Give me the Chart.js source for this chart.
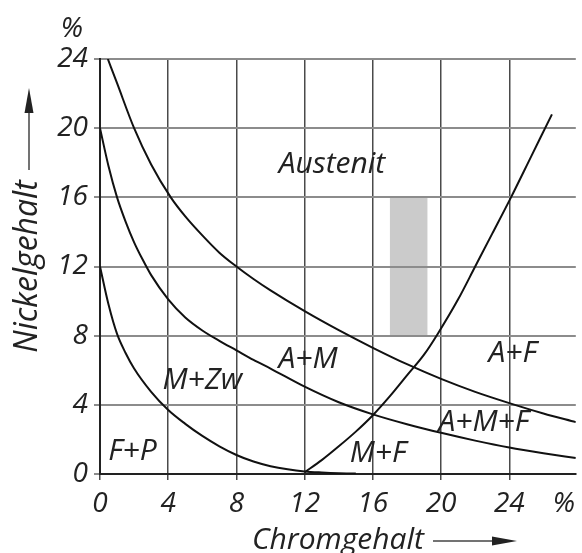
<!DOCTYPE html>
<html>
<head>
<meta charset="utf-8">
<script src="https://cdn.jsdelivr.net/npm/chart.js@4"></script>
<style>
  html, body { margin: 0; padding: 0; background: #fff; }
  #wrap { width: 582px; height: 553px; }
</style>
</head>
<body>
<div id="wrap"><canvas id="c" width="582" height="553"></canvas></div>
<script>
// Chromium-nickel structure diagram (Maurer diagram)
const xTicks = [0, 4, 8, 12, 16, 20, 24];
const yTicks = [0, 4, 8, 12, 16, 20, 24];

// boundary F+P / M+Zw
const fpX = [0, 0.5, 1, 1.5, 2, 3, 4, 5, 6, 7, 8, 9, 10, 11, 12, 13, 14, 15];
const fpY = [12, 9.8, 8.1, 7.0, 6.1, 4.75, 3.7, 2.9, 2.2, 1.6, 1.1, 0.72, 0.45, 0.27, 0.15, 0.09, 0.05, 0.03];

// boundary M+Zw / A+M
const amX = [0, 0.5, 1, 1.5, 2, 2.5, 3, 4, 5, 6, 7, 8, 9, 10, 12, 14, 16, 18, 20, 22, 24, 26, 27.9];
const amY = [20, 17.8, 16.0, 14.6, 13.4, 12.4, 11.5, 10.1, 9.05, 8.3, 7.7, 7.15, 6.6, 6.1, 5.05, 4.15, 3.45, 2.88, 2.38, 1.93, 1.53, 1.2, 0.92];

// boundary Austenit / A+M
const auX = [0.46, 1, 2, 3, 4.15, 5, 6, 7, 8, 9, 10, 12, 14, 16, 18, 20, 22, 24, 26, 27.9];
const auY = [24, 22.6, 20, 17.9, 16, 14.9, 13.8, 12.8, 12, 11.28, 10.62, 9.42, 8.32, 7.3, 6.35, 5.5, 4.75, 4.1, 3.5, 3.0];

// boundary towards ferrite
const feX = [12, 13, 14, 15, 16, 17, 18, 19, 19.8, 21, 22, 23, 24.1, 25.3, 26.5];
const feY = [0.1, 0.8, 1.6, 2.45, 3.4, 4.5, 5.7, 6.9, 8.1, 10.1, 12, 13.9, 16, 18.4, 20.8];

// shaded band of common stainless steels
const bandX = [17, 19.2];
const bandY = [8, 16];

// phase region names
const regionNames = ['Austenit', 'A+M', 'M+Zw', 'F+P', 'M+F', 'A+M+F', 'A+F'];
const regionAt = [[13.6, 17.9], [12.2, 6.6], [6.0, 5.4], [1.9, 1.3], [16.3, 1.2], [22.5, 3.0], [24.2, 7.0]];

const FONT = "'Open Sans', 'DejaVu Sans', sans-serif";
const pts = (xs, ys) => xs.map((x, i) => ({ x, y: ys[i] }));

const curve = (data) => ({
  data,
  borderColor: '#111',
  borderWidth: 2,
  pointRadius: 0,
  fill: false,
  cubicInterpolationMode: 'monotone'
});

const decor = {
  id: 'decor',
  beforeDraw(chart) {
    const { ctx, scales: { x, y } } = chart;
    ctx.save();
    ctx.fillStyle = '#fff';
    ctx.fillRect(0, 0, chart.width, chart.height);
    ctx.fillStyle = '#cbcbcb';
    const x0 = x.getPixelForValue(bandX[0]), x1 = x.getPixelForValue(bandX[1]);
    const y0 = y.getPixelForValue(bandY[1]), y1 = y.getPixelForValue(bandY[0]);
    ctx.fillRect(x0, y0, x1 - x0, y1 - y0);
    ctx.restore();
  },
  afterDraw(chart) {
    const { ctx, scales: { x, y }, chartArea } = chart;
    ctx.save();
    ctx.fillStyle = '#222';
    ctx.font = `italic 400 30px ${FONT}`;
    ctx.textAlign = 'center';
    ctx.textBaseline = 'middle';
    regionNames.forEach((t, i) => {
      ctx.fillText(t, x.getPixelForValue(regionAt[i][0]), y.getPixelForValue(regionAt[i][1]));
    });
    // unit sign above the y axis
    ctx.font = `italic 400 28px ${FONT}`;
    ctx.fillText('%', 72, chartArea.top - 30);

    // arrows after the axis titles
    ctx.strokeStyle = '#444';
    ctx.fillStyle = '#222';
    ctx.lineWidth = 1.5;
    // x arrow
    const ax0 = 433, ax1 = 517, ay = 541;
    ctx.beginPath(); ctx.moveTo(ax0, ay); ctx.lineTo(ax1 - 20, ay); ctx.stroke();
    ctx.beginPath(); ctx.moveTo(ax1, ay); ctx.lineTo(ax1 - 25, ay - 4.5); ctx.lineTo(ax1 - 25, ay + 4.5); ctx.closePath(); ctx.fill();
    // y arrow
    const bx = 29, by0 = 170, by1 = 88;
    ctx.beginPath(); ctx.moveTo(bx, by0); ctx.lineTo(bx, by1 + 20); ctx.stroke();
    ctx.beginPath(); ctx.moveTo(bx, by1); ctx.lineTo(bx - 4.5, by1 + 25); ctx.lineTo(bx + 4.5, by1 + 25); ctx.closePath(); ctx.fill();
    ctx.restore();
  }
};

new Chart(document.getElementById('c'), {
  type: 'line',
  data: {
    datasets: [curve(pts(fpX, fpY)), curve(pts(amX, amY)), curve(pts(auX, auY)), curve(pts(feX, feY))]
  },
  options: {
    responsive: false,
    animation: false,
    layout: { padding: { top: 59, right: 0, left: 0, bottom: 0 } },
    plugins: { legend: { display: false }, tooltip: { enabled: false } },
    scales: {
      x: {
        type: 'linear',
        min: 0,
        max: 27.9,
        afterBuildTicks(s) { s.ticks = xTicks.concat([27.2]).map(v => ({ value: v })); },
        afterFit(s) { s.height = 79; },
        ticks: {
          color: '#222',
          padding: 7,
          font: { family: FONT, size: 28, style: 'italic', weight: 400 },
          callback: (v) => (v > 25 ? '%' : v)
        },
        grid: {
          color: (c) => (c.tick && c.tick.value > 25 ? 'rgba(0,0,0,0)' : '#4a4a4a'),
          lineWidth: 1.5,
          tickLength: 6
        },
        border: { color: '#222', width: 2 },
        title: {
          display: true,
          text: 'Chromgehalt',
          color: '#222',
          padding: { top: 0, bottom: 0 },
          font: { family: FONT, size: 30, style: 'italic', weight: 400, lineHeight: 0.82 }
        }
      },
      y: {
        type: 'linear',
        min: 0,
        max: 24,
        afterBuildTicks(s) { s.ticks = yTicks.map(v => ({ value: v })); },
        afterFit(s) { s.width = 100; },
        ticks: {
          color: '#222',
          padding: 6,
          font: { family: FONT, size: 28, style: 'italic', weight: 400 }
        },
        grid: { color: '#8c8c8c', lineWidth: 2, tickLength: 6 },
        border: { color: '#222', width: 2 },
        title: {
          display: true,
          text: 'Nickelgehalt',
          color: '#222',
          padding: { top: 9, bottom: 0 },
          font: { family: FONT, size: 32, style: 'italic', weight: 400, lineHeight: 1.2 }
        }
      }
    }
  },
  plugins: [decor]
});
</script>
</body>
</html>
